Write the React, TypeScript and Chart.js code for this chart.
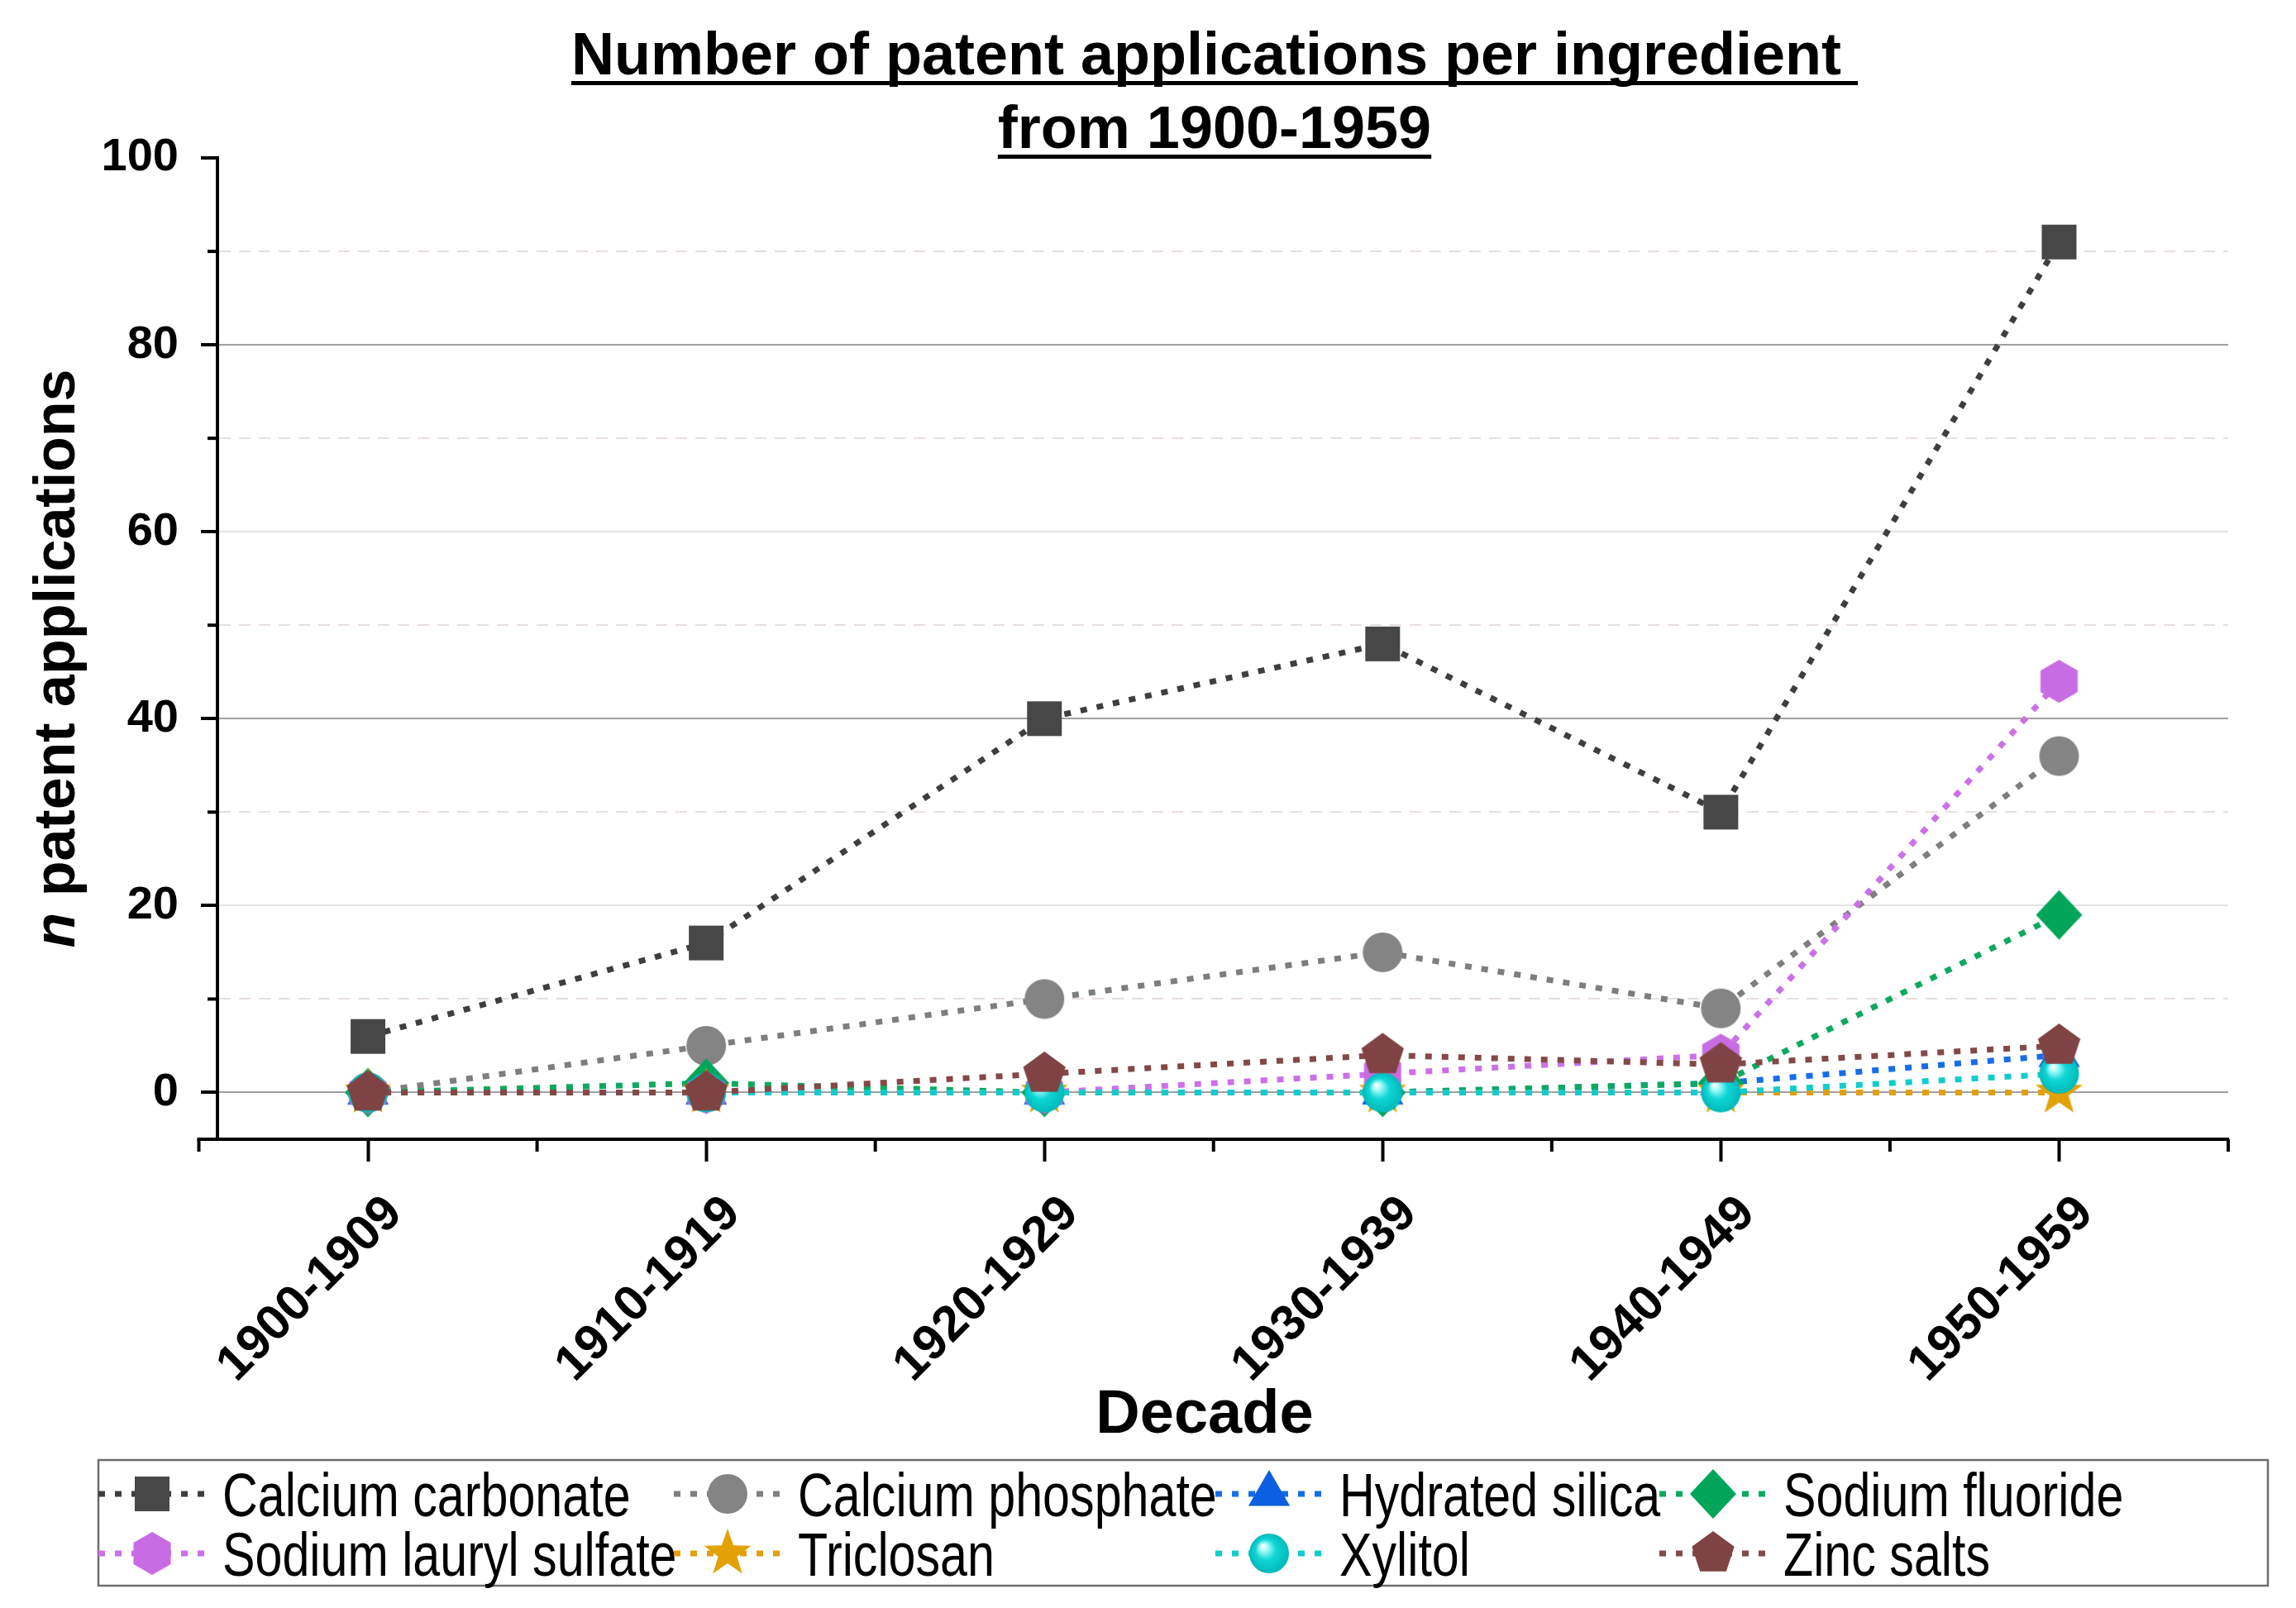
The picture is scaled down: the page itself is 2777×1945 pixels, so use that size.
import React, { useEffect, useRef } from 'react';
import { Chart, registerables } from 'chart.js';

Chart.register(...registerables);

// ---------------- data ----------------
const decades = ['1900-1909', '1910-1919', '1920-1929', '1930-1939', '1940-1949', '1950-1959'];
const decadePositions = [0, 1, 2, 3, 4, 5];

const calciumCarbonate = [6, 16, 40, 48, 30, 91];
const calciumPhosphate = [0, 5, 10, 15, 9, 36];
const hydratedSilica = [0, 0, 0, 0, 1, 4];
const sodiumFluoride = [0, 1, 0, 0, 1, 19];
const sodiumLaurylSulfate = [0, 0, 0, 2, 4, 44];
const triclosan = [0, 0, 0, 0, 0, 0];
const xylitol = [0, 0, 0, 0, 0, 2];
const zincSalts = [0, 0, 2, 4, 3, 5];

const seriesNames = [
  'Calcium carbonate',
  'Calcium phosphate',
  'Hydrated silica',
  'Sodium fluoride',
  'Sodium lauryl sulfate',
  'Triclosan',
  'Xylitol',
  'Zinc salts',
];
const seriesValues = [
  calciumCarbonate,
  calciumPhosphate,
  hydratedSilica,
  sodiumFluoride,
  sodiumLaurylSulfate,
  triclosan,
  xylitol,
  zincSalts,
];

const yTickValues = [0, 10, 20, 30, 40, 50, 60, 70, 80, 90, 100];
const yMinorTickValues = [10, 30, 50, 70, 90];
const xMinorTickValues = [-0.5, 0.5, 1.5, 2.5, 3.5, 4.5, 5.5];

const titleLines = ['Number of patent applications per ingredient ', 'from 1900-1959'];
const yTitleItalic = 'n';
const yTitleRest = ' patent applications';
const xTitle = 'Decade';

// ---------------- styles ----------------
const FONT = '"Liberation Sans", Arial, sans-serif';
const markerKinds = ['square', 'circle', 'triangle', 'diamond', 'hexagon', 'star', 'sphere', 'pentagon'];
const markerColors = ['#474747', '#848484', '#0b5fe0', '#03a55a', '#c86ce4', '#e2a104', '#00cccc', '#7f4343'];
const lineColors = ['#3e3e3e', '#7e7e7e', '#176de8', '#0ea95f', '#cc70e8', '#e0a00e', '#12cccc', '#844848'];
const LINE_DASH = [8, 12];

function makeMarker(kind: string, color: string): HTMLCanvasElement {
  const c = document.createElement('canvas');
  c.width = 70;
  c.height = 70;
  const g = c.getContext('2d')!;
  const cx = 35;
  const cy = 35;
  g.fillStyle = color;
  g.beginPath();
  const poly = (n: number, r: number, start: number) => {
    for (let k = 0; k < n; k++) {
      const a = start + (k * 2 * Math.PI) / n;
      const px = cx + r * Math.cos(a);
      const py = cy + r * Math.sin(a);
      if (k === 0) g.moveTo(px, py);
      else g.lineTo(px, py);
    }
    g.closePath();
  };
  switch (kind) {
    case 'square':
      g.rect(cx - 21, cy - 21, 42, 42);
      break;
    case 'circle':
      g.arc(cx, cy, 24, 0, Math.PI * 2);
      break;
    case 'triangle':
      poly(3, 29, -Math.PI / 2);
      break;
    case 'diamond':
      g.moveTo(cx, cy - 30);
      g.lineTo(cx + 28, cy);
      g.lineTo(cx, cy + 30);
      g.lineTo(cx - 28, cy);
      g.closePath();
      break;
    case 'hexagon':
      poly(6, 26, -Math.PI / 2);
      break;
    case 'pentagon':
      poly(5, 27, -Math.PI / 2);
      break;
    case 'star': {
      for (let k = 0; k < 10; k++) {
        const r = k % 2 === 0 ? 30 : 12;
        const a = -Math.PI / 2 + (k * Math.PI) / 5;
        const px = cx + r * Math.cos(a);
        const py = cy + r * Math.sin(a);
        if (k === 0) g.moveTo(px, py);
        else g.lineTo(px, py);
      }
      g.closePath();
      break;
    }
    case 'sphere': {
      const grad = g.createRadialGradient(cx - 8, cy - 9, 1, cx, cy, 24);
      grad.addColorStop(0, '#ffffff');
      grad.addColorStop(0.18, '#9ffafa');
      grad.addColorStop(0.5, '#10d6d6');
      grad.addColorStop(1, '#00b9b9');
      g.fillStyle = grad;
      g.arc(cx, cy, 24, 0, Math.PI * 2);
      break;
    }
  }
  g.fill();
  return c;
}

// ---------------- decorations plugin ----------------
const decorPlugin = {
  id: 'decor',
  beforeDraw(chart: any) {
    const ctx = chart.ctx;
    ctx.save();
    ctx.fillStyle = '#ffffff';
    ctx.fillRect(0, 0, chart.width, chart.height);
    ctx.restore();
  },
  afterDraw(chart: any) {
    const ctx: CanvasRenderingContext2D = chart.ctx;
    const area = chart.chartArea;
    const xs = chart.scales.x;
    const ys = chart.scales.y;
    ctx.save();

    // axis extension and minor ticks
    ctx.strokeStyle = '#000';
    ctx.lineWidth = 4;
    ctx.lineCap = 'butt';
    ctx.beginPath();
    ctx.moveTo(xs.getPixelForValue(-0.5) - 2, xs.top);
    ctx.lineTo(area.left, xs.top);
    ctx.stroke();
    xMinorTickValues.forEach((v) => {
      const px = xs.getPixelForValue(v);
      ctx.beginPath();
      ctx.moveTo(px, xs.top);
      ctx.lineTo(px, xs.top + 15);
      ctx.stroke();
    });
    yMinorTickValues.forEach((v) => {
      const py = ys.getPixelForValue(v);
      ctx.beginPath();
      ctx.moveTo(area.left - 12, py);
      ctx.lineTo(area.left, py);
      ctx.stroke();
    });

    // title
    const tcx = (area.left + area.right) / 2 - 10;
    ctx.fillStyle = '#000';
    ctx.font = 'bold 72px ' + FONT;
    ctx.textAlign = 'left';
    ctx.textBaseline = 'alphabetic';
    const baselines = [90, 179];
    titleLines.forEach((t, i) => {
      const w = ctx.measureText(t).width;
      ctx.fillText(t, tcx - w / 2, baselines[i]);
      ctx.fillRect(tcx - w / 2, baselines[i] + 8, w, 5);
    });

    // x title
    ctx.font = 'bold 74px ' + FONT;
    ctx.textAlign = 'center';
    ctx.textBaseline = 'middle';
    ctx.fillText(xTitle, (area.left + area.right) / 2 - 22, 1713);

    // y title
    ctx.save();
    ctx.textAlign = 'left';
    ctx.textBaseline = 'alphabetic';
    const ycy = (area.top + area.bottom) / 2 + 12;
    ctx.translate(90, ycy);
    ctx.rotate(-Math.PI / 2);
    const fItalic = 'italic bold 70px ' + FONT;
    const fBold = 'bold 70px ' + FONT;
    ctx.font = fItalic;
    const w1 = ctx.measureText(yTitleItalic).width;
    ctx.font = fBold;
    const w2 = ctx.measureText(yTitleRest).width;
    const start = -(w1 + w2) / 2;
    ctx.font = fItalic;
    ctx.fillText(yTitleItalic, start, 0);
    ctx.font = fBold;
    ctx.fillText(yTitleRest, start + w1, 0);
    ctx.restore();

    // legend
    const boxL = 119, boxT = 1766, boxR = 2743, boxB = 1918;
    ctx.strokeStyle = '#6e6e6e';
    ctx.lineWidth = 2.5;
    ctx.strokeRect(boxL, boxT, boxR - boxL, boxB - boxT);

    const narrow = '74px "Liberation Sans Narrow", "Liberation Sans", Arial';
    const regular = '74px "Liberation Sans", Arial';
    ctx.font = narrow;
    const wn = ctx.measureText('Calcium carbonate').width;
    ctx.font = regular;
    const wr = ctx.measureText('Calcium carbonate').width;
    const useNarrow = wn < wr * 0.92;
    const sx = useNarrow ? 0.98 : 0.8;

    const colX = [119, 815, 1470, 2007];
    const rowY = [1807, 1879];
    chart.data.datasets.forEach((ds: any, i: number) => {
      const x0 = colX[i % 4];
      const y0 = rowY[Math.floor(i / 4)];
      ctx.save();
      ctx.strokeStyle = ds.borderColor;
      ctx.lineWidth = ds.borderWidth;
      ctx.setLineDash(ds.borderDash);
      ctx.beginPath();
      ctx.moveTo(x0, y0);
      ctx.lineTo(x0 + 129, y0);
      ctx.stroke();
      ctx.restore();
      const img = ds.pointStyle as HTMLCanvasElement;
      ctx.drawImage(img, x0 + 65 - img.width / 2, y0 - img.height / 2);
      ctx.save();
      ctx.fillStyle = '#000';
      ctx.font = useNarrow ? narrow : regular;
      ctx.textBaseline = 'alphabetic';
      ctx.textAlign = 'left';
      ctx.translate(x0 + 150, y0 + 27);
      ctx.scale(sx, 1);
      ctx.fillText(ds.label, 0, 0);
      ctx.restore();
    });

    ctx.restore();
  },
};

export default function App() {
  const ref = useRef<HTMLCanvasElement>(null);

  useEffect(() => {
    document.body.style.margin = '0';
    document.body.style.overflow = 'hidden';
    const canvas = ref.current!;

    const datasets = seriesNames.map((name, i) => ({
      label: name,
      data: decadePositions.map((x, j) => ({ x, y: seriesValues[i][j] })),
      borderColor: lineColors[i],
      backgroundColor: markerColors[i],
      borderWidth: 7,
      borderDash: LINE_DASH,
      borderCapStyle: 'butt' as const,
      pointStyle: makeMarker(markerKinds[i], markerColors[i]),
      pointRadius: 24,
      pointBorderWidth: 0,
      tension: 0,
      order: seriesNames.length - i,
    }));

    const chart = new Chart(canvas, {
      type: 'line',
      data: { datasets },
      plugins: [decorPlugin],
      options: {
        animation: false,
        responsive: false,
        devicePixelRatio: 1,
        events: [],
        layout: { padding: { top: 191, right: 82, bottom: 189, left: 0 } },
        plugins: {
          legend: { display: false },
          title: { display: false },
          tooltip: { enabled: false },
        },
        scales: {
          x: {
            type: 'linear',
            min: -0.445,
            max: 5.5,
            afterBuildTicks: (scale: any) => {
              scale.ticks = decadePositions.map((v) => ({ value: v }));
            },
            afterFit: (scale: any) => {
              scale.height = 378;
            },
            ticks: {
              autoSkip: false,
              maxRotation: 45,
              minRotation: 45,
              padding: 28,
              labelOffset: 32,
              color: '#000',
              font: { family: FONT, size: 60, weight: 'bold' },
              callback: (v: any) => decades[Number(v)] ?? '',
            },
            grid: {
              drawOnChartArea: false,
              drawTicks: true,
              tickLength: 27,
              tickWidth: 4,
              tickColor: '#000',
            },
            border: { display: true, color: '#000', width: 4 },
            title: { display: false },
          },
          y: {
            type: 'linear',
            min: -5,
            max: 100,
            afterBuildTicks: (scale: any) => {
              scale.ticks = yTickValues.map((v) => ({ value: v }));
            },
            afterFit: (scale: any) => {
              scale.width = 263;
            },
            ticks: {
              padding: 27,
              color: '#000',
              font: { family: FONT, size: 56, weight: 'bold' },
              callback: (v: any) => (Number(v) % 20 === 0 ? String(v) : ''),
            },
            grid: {
              drawOnChartArea: true,
              drawTicks: true,
              tickLength: 20,
              tickWidth: 4,
              lineWidth: 2,
              tickColor: (c: any) => (c.tick && c.tick.value % 20 === 0 ? '#000' : 'rgba(0,0,0,0)'),
              color: (c: any) => {
                const v = c.tick ? c.tick.value : 0;
                if (v === 100) return 'rgba(0,0,0,0)';
                if (v % 40 === 0) return '#a0a0a0';
                if (v % 20 === 0) return '#e3e3e3';
                return '#e8dede';
              },
            },
            border: {
              display: true,
              color: '#000',
              width: 4,
              dash: (c: any) => (c.tick && c.tick.value % 20 !== 0 ? [14, 10] : []),
            },
          },
        },
      } as any,
    });

    return () => chart.destroy();
  }, []);

  return (
    <canvas
      ref={ref}
      width={2777}
      height={1945}
      style={{ display: 'block', width: '2777px', height: '1945px' }}
    />
  );
}
